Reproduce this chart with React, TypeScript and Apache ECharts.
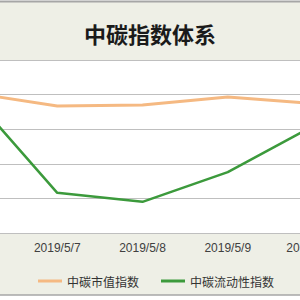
import React, { useEffect, useRef } from "react";
import * as echarts from "echarts";

const categories = ["2019/5/6", "2019/5/7", "2019/5/8", "2019/5/9", "2019/5/10"];
const marketValueIndex = [4.05, 3.67, 3.7, 3.93, 3.74];
const liquidityIndex = [3.97, 1.16, 0.9, 1.76, 3.09];
const seriesNames = ["中碳市值指数", "中碳流动性指数"];
const titleText = "中碳指数体系";

const OFFSET = 40;
const CW = 380;

export default function App() {
  const ref = useRef<HTMLDivElement>(null);
  useEffect(() => {
    if (!ref.current) return;
    const chart = echarts.init(ref.current, null, { renderer: "svg" });
    chart.setOption({
      animation: false,
      backgroundColor: "#ffffff",
      graphic: [
        { type: "rect", shape: { x: 0, y: 1, width: CW, height: 294 }, style: { fill: "#EEEFE6" }, z: -10 },
        { type: "line", shape: { x1: 0, y1: 1.5, x2: CW, y2: 1.5 }, style: { stroke: "#A6A6A6", lineWidth: 2 }, z: -5 },
        { type: "line", shape: { x1: 0, y1: 295, x2: CW, y2: 295 }, style: { stroke: "#A6A6A6", lineWidth: 1.5 }, z: -5 },
      ],
      title: {
        text: titleText,
        left: "center",
        top: 17,
        textStyle: { fontSize: 22, fontWeight: "bold", color: "#1a1a1a", fontFamily: "Noto Sans CJK SC" },
      },
      grid: {
        top: 60,
        bottom: 67,
        left: OFFSET - 28,
        right: CW - (OFFSET + 313),
        show: true,
        backgroundColor: "#ffffff",
        borderWidth: 0,
        containLabel: false,
        outerBoundsMode: "none",
      },
      xAxis: {
        type: "category",
        data: categories,
        boundaryGap: false,
        axisLine: { lineStyle: { color: "#BFBFBF", width: 1 } },
        axisTick: { show: false },
        axisLabel: { fontSize: 12, color: "#404040", margin: 9, fontFamily: "Liberation Sans", interval: 0 },
      },
      yAxis: {
        type: "value",
        min: 0,
        max: 5,
        interval: 1,
        axisLabel: { show: false },
        axisLine: { show: false },
        axisTick: { show: false },
        splitLine: { lineStyle: { color: "#BFBFBF", width: 1 } },
      },
      legend: {
        left: OFFSET + 33,
        top: 270,
        itemWidth: 24,
        itemHeight: 3,
        itemGap: 22,
        icon: "rect",
        textStyle: { fontSize: 12, color: "#333", fontFamily: "Noto Sans CJK SC" },
        data: seriesNames,
      },
      series: [
        {
          name: seriesNames[0],
          type: "line",
          data: marketValueIndex,
          symbol: "none",
          lineStyle: { color: "#F5B982", width: 3 },
          itemStyle: { color: "#F5B982" },
        },
        {
          name: seriesNames[1],
          type: "line",
          data: liquidityIndex,
          symbol: "none",
          lineStyle: { color: "#3C9A3C", width: 2.5 },
          itemStyle: { color: "#3C9A3C" },
        },
      ],
    });
    return () => chart.dispose();
  }, []);
  return <div ref={ref} style={{ position: "fixed", left: -OFFSET, top: 0, width: CW, height: 300 }} />;
}
